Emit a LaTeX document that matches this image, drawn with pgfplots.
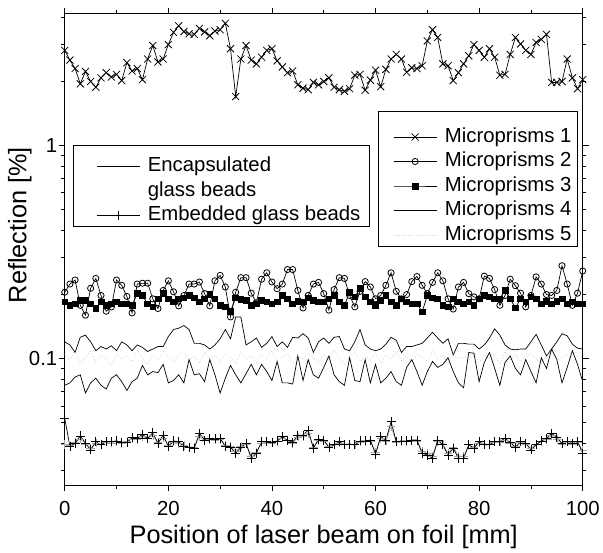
\documentclass[border=0pt]{standalone}
\usepackage{pgfplots}
\pgfplotsset{compat=1.18}
\usepackage{pgfplotstable}
\usepackage{fontspec}
\setmainfont{Liberation Sans}

\pgfplotstableread{
x m1 m2 m3 m4 m5 enc emb embg
0 2.80 0.205 0.185 0.120 0.105 0.075 0.0524 0.0395
1 2.52 0.224 0.178 0.116 0.098 0.077 0.0387 0.0390
2 2.30 0.234 0.181 0.107 0.110 0.082 0.0401 0.0405
3 1.95 0.178 0.188 0.126 0.095 0.084 0.0434 0.0420
4 2.23 0.160 0.188 0.129 0.102 0.069 0.0401 0.0398
5 2.00 0.214 0.181 0.120 0.108 0.077 0.0373 0.0380
6 1.88 0.238 0.172 0.109 0.096 0.081 0.0408 0.0402
7 2.08 0.198 0.185 0.114 0.104 0.075 0.0394 0.0398
8 2.20 0.167 0.178 0.111 0.100 0.072 0.0408 0.0405
9 2.10 0.175 0.181 0.115 0.093 0.081 0.0408 0.0402
10 2.16 0.234 0.185 0.109 0.106 0.084 0.0411 0.0408
11 2.02 0.221 0.181 0.120 0.099 0.078 0.0405 0.0400
12 2.45 0.196 0.181 0.116 0.103 0.071 0.0404 0.0410
13 2.24 0.164 0.178 0.109 0.097 0.078 0.0426 0.0420
14 2.30 0.224 0.202 0.116 0.110 0.081 0.0423 0.0418
15 2.04 0.226 0.198 0.113 0.101 0.093 0.0441 0.0430
16 2.55 0.226 0.181 0.108 0.094 0.084 0.0423 0.0425
17 2.95 0.191 0.175 0.111 0.105 0.087 0.0449 0.0435
18 2.47 0.172 0.191 0.114 0.099 0.086 0.0401 0.0405
19 2.55 0.209 0.202 0.114 0.108 0.094 0.0438 0.0425
20 2.98 0.232 0.191 0.127 0.102 0.077 0.0387 0.0392
21 3.40 0.206 0.185 0.137 0.096 0.079 0.0411 0.0405
22 3.65 0.177 0.191 0.139 0.104 0.084 0.0408 0.0400
23 3.43 0.198 0.193 0.143 0.109 0.077 0.0387 0.0392
24 3.35 0.224 0.198 0.137 0.098 0.099 0.0383 0.0385
25 3.33 0.224 0.193 0.118 0.103 0.084 0.0380 0.0385
26 3.55 0.229 0.185 0.118 0.095 0.085 0.0446 0.0430
27 3.42 0.202 0.191 0.116 0.107 0.078 0.0415 0.0412
28 3.28 0.177 0.200 0.111 0.100 0.099 0.0423 0.0418
29 3.45 0.232 0.191 0.116 0.104 0.084 0.0420 0.0415
30 3.50 0.246 0.178 0.124 0.097 0.069 0.0423 0.0418
31 3.75 0.217 0.175 0.137 0.106 0.081 0.0387 0.0392
32 2.85 0.157 0.167 0.124 0.101 0.093 0.0383 0.0388
33 1.70 0.205 0.193 0.157 0.094 0.084 0.0360 0.0368
34 2.55 0.240 0.190 0.157 0.108 0.077 0.0383 0.0388
35 2.95 0.240 0.188 0.116 0.099 0.085 0.0401 0.0398
36 2.52 0.203 0.178 0.120 0.103 0.094 0.0341 0.0350
37 2.42 0.183 0.181 0.125 0.096 0.084 0.0360 0.0365
38 2.60 0.236 0.188 0.113 0.105 0.094 0.0408 0.0402
39 2.80 0.253 0.185 0.118 0.100 0.087 0.0408 0.0405
40 2.85 0.229 0.181 0.127 0.109 0.079 0.0405 0.0402
41 2.50 0.213 0.185 0.114 0.097 0.097 0.0411 0.0408
42 2.34 0.224 0.198 0.120 0.102 0.077 0.0431 0.0425
43 2.20 0.262 0.191 0.113 0.106 0.077 0.0415 0.0412
44 2.24 0.262 0.181 0.126 0.095 0.076 0.0405 0.0400
45 1.93 0.209 0.186 0.125 0.104 0.103 0.0436 0.0428
46 1.86 0.173 0.185 0.131 0.099 0.079 0.0438 0.0432
47 1.83 0.198 0.193 0.125 0.107 0.099 0.0462 0.0445
48 1.98 0.224 0.188 0.107 0.101 0.084 0.0380 0.0385
49 1.93 0.228 0.185 0.120 0.096 0.081 0.0419 0.0412
50 2.00 0.202 0.185 0.125 0.105 0.091 0.0415 0.0410
51 2.08 0.169 0.191 0.118 0.098 0.103 0.0383 0.0388
52 1.88 0.211 0.198 0.126 0.110 0.084 0.0394 0.0398
53 1.83 0.240 0.185 0.127 0.100 0.078 0.0408 0.0402
54 1.80 0.238 0.178 0.111 0.094 0.075 0.0394 0.0398
55 1.85 0.198 0.205 0.109 0.103 0.101 0.0397 0.0398
56 2.14 0.175 0.195 0.120 0.107 0.079 0.0394 0.0395
57 2.16 0.207 0.213 0.137 0.097 0.078 0.0411 0.0405
58 1.82 0.230 0.195 0.116 0.102 0.099 0.0411 0.0408
59 2.03 0.217 0.185 0.111 0.099 0.077 0.0415 0.0410
60 2.26 0.191 0.178 0.109 0.106 0.094 0.0356 0.0365
61 1.89 0.198 0.188 0.111 0.095 0.077 0.0431 0.0422
62 2.28 0.221 0.198 0.117 0.104 0.081 0.0415 0.0410
63 2.55 0.253 0.185 0.126 0.100 0.087 0.0506 0.0480
64 2.68 0.207 0.178 0.122 0.108 0.078 0.0408 0.0405
65 2.55 0.191 0.191 0.107 0.098 0.075 0.0411 0.0408
66 2.21 0.200 0.185 0.114 0.103 0.091 0.0411 0.0408
67 2.32 0.230 0.181 0.114 0.096 0.099 0.0415 0.0410
68 2.30 0.243 0.181 0.116 0.105 0.087 0.0415 0.0410
69 2.37 0.221 0.166 0.118 0.101 0.075 0.0360 0.0368
70 3.10 0.202 0.198 0.125 0.097 0.087 0.0353 0.0360
71 3.50 0.228 0.193 0.133 0.109 0.097 0.0341 0.0350
72 3.22 0.253 0.191 0.125 0.099 0.091 0.0415 0.0408
73 2.42 0.232 0.178 0.118 0.104 0.094 0.0394 0.0398
74 2.37 0.191 0.175 0.124 0.095 0.101 0.0353 0.0360
75 2.02 0.171 0.191 0.104 0.106 0.087 0.0380 0.0385
76 2.20 0.217 0.185 0.118 0.100 0.077 0.0341 0.0350
77 2.42 0.228 0.181 0.118 0.102 0.073 0.0339 0.0348
78 2.64 0.202 0.185 0.117 0.098 0.107 0.0394 0.0395
79 2.98 0.195 0.178 0.117 0.107 0.106 0.0380 0.0385
80 2.80 0.191 0.191 0.111 0.096 0.078 0.0408 0.0402
81 2.60 0.244 0.198 0.116 0.103 0.096 0.0394 0.0398
82 2.85 0.238 0.195 0.125 0.101 0.107 0.0394 0.0398
83 2.60 0.211 0.191 0.138 0.105 0.090 0.0408 0.0405
84 2.14 0.178 0.191 0.129 0.094 0.075 0.0408 0.0405
85 2.16 0.198 0.209 0.116 0.108 0.096 0.0423 0.0415
86 2.68 0.236 0.191 0.111 0.099 0.103 0.0405 0.0402
87 3.22 0.220 0.173 0.110 0.104 0.090 0.0383 0.0388
88 3.00 0.203 0.191 0.111 0.097 0.084 0.0408 0.0405
89 2.80 0.175 0.185 0.111 0.102 0.099 0.0401 0.0398
90 2.68 0.198 0.195 0.120 0.106 0.087 0.0373 0.0380
91 3.05 0.242 0.191 0.130 0.100 0.077 0.0394 0.0398
92 3.15 0.224 0.181 0.116 0.095 0.101 0.0411 0.0408
93 3.33 0.200 0.186 0.103 0.103 0.090 0.0423 0.0418
94 1.98 0.198 0.181 0.111 0.109 0.111 0.0446 0.0435
95 1.98 0.209 0.186 0.120 0.098 0.099 0.0426 0.0420
96 2.00 0.273 0.191 0.131 0.101 0.077 0.0401 0.0398
97 2.55 0.224 0.181 0.128 0.105 0.091 0.0408 0.0405
98 2.08 0.178 0.185 0.117 0.096 0.109 0.0401 0.0398
99 1.85 0.203 0.181 0.112 0.104 0.094 0.0408 0.0405
100 2.04 0.258 0.181 0.111 0.100 0.078 0.0360 0.0370
}\data

\begin{document}
\begin{tikzpicture}
\begin{axis}[
  scale only axis, width=520bp, height=473bp,
  xmin=0, xmax=100, ymin=0.0255, ymax=4.15, ymode=log,
  legend image code/.code={\draw[mark repeat=2,mark phase=2] plot coordinates {(0bp,0bp) (21.5bp,0bp) (43bp,0bp)}; \path (51bp,0bp);},
  legend cell align=left,
  /pgf/number format/assume math mode=true,
  axis line style={line width=0.9bp},
  tick align=outside, major tick length=6bp, minor tick length=3.5bp,
  tick style={black, line width=0.8bp},
  xtick={0,20,40,60,80,100}, xticklabels={0,20,40,60,80,100},
  minor xtick={10,30,50,70,90},
  ytick={0.1,1}, yticklabels={0.1,1},
  minor ytick={0.03,0.04,0.05,0.06,0.07,0.08,0.09,0.2,0.3,0.4,0.5,0.6,0.7,0.8,0.9,2,3,4},
  ticklabel style={font=\fontsize{20.5}{24}\selectfont},
  xticklabel style={yshift=-7bp},
  yticklabel style={xshift=2bp},
  label style={font=\fontsize{25.5}{30}\selectfont},
  xlabel={Position of laser beam on foil [mm]},
  ylabel={Reflection [\%]},
  xlabel style={at={(axis description cs:0.5,-0.124)}, anchor=base},
  ylabel style={at={(axis description cs:-0.0865,0.552)}, anchor=center},
  legend style={draw=none, fill=none, inner sep=0pt, row sep=5bp,
    font=\fontsize{20.5}{24.6}\selectfont,
    nodes={inner sep=0pt, text height=15bp, text depth=4.6bp},
    at={(axis description cs:0.634,0.760)}, anchor=north west},
]
\addplot[black, line width=0.7bp, mark=x, mark size=5bp, mark options={solid, line width=0.8bp}] table[x=x,y=m1]{\data};
\addlegendentry{Microprisms 1}
\addplot[black, line width=0.7bp, mark=o, mark size=3.1bp, mark options={solid, fill=white, line width=0.8bp}] table[x=x,y=m2]{\data};
\addlegendentry{Microprisms 2}
\addplot[black, line width=0.7bp, mark=square*, mark size=2.9bp, mark options={solid, fill=black}] table[x=x,y=m3]{\data};
\addlegendentry{Microprisms 3}
\addplot[black, line width=0.7bp, no markers] table[x=x,y=m4]{\data};
\addlegendentry{Microprisms 4}
\addplot[gray!35, line width=0.8bp, dotted, no markers] table[x=x,y=m5]{\data};
\addlegendentry{Microprisms 5}
\draw[black, line width=0.9bp] (rel axis cs:0.606,0.507) rectangle (rel axis cs:0.990,0.793);
\end{axis}
\begin{axis}[
  scale only axis, width=520bp, height=473bp,
  xmin=0, xmax=100, ymin=0.0255, ymax=4.15, ymode=log,
  hide axis,
  legend image code/.code={\draw[mark repeat=2,mark phase=2] plot coordinates {(0bp,0bp) (21.5bp,0bp) (43bp,0bp)}; \path (51bp,0bp);},
  legend cell align=left,
  legend style={draw=none, fill=none, inner sep=0pt, row sep=5bp,
    font=\fontsize{20.5}{24.6}\selectfont,
    nodes={inner sep=0pt, text height=15bp, text depth=4.6bp},
    at={(axis description cs:0.0606,0.6968)}, anchor=north west},
]
\addplot[black, line width=0.7bp, no markers] table[x=x,y=enc]{\data};
\addlegendentry{Encapsulated}
\addlegendimage{empty legend}
\addlegendentry{glass beads}
\addplot[gray!70, line width=0.6bp, mark=+, mark size=4.2bp, mark options={solid}, forget plot] table[x=x,y=embg]{\data};
\addplot[black, line width=0.7bp, mark=+, mark size=4.5bp, mark options={solid, line width=0.8bp}] table[x=x,y=emb]{\data};
\addlegendentry{Embedded glass beads}
\draw[black, line width=0.9bp] (rel axis cs:0.0162,0.549) rectangle (rel axis cs:0.588,0.721);
\end{axis}
\path[use as bounding box] ([xshift=-65bp,yshift=-63bp]current axis.south west) rectangle ++(603bp,550bp);
\end{tikzpicture}
\end{document}
